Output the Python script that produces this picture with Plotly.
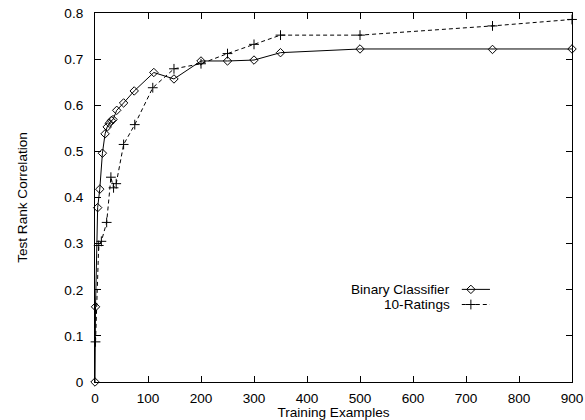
import plotly.graph_objects as go

# Data
binary_x = [0, 1, 5, 9, 14, 19, 23, 27, 31, 34, 41, 54, 74, 111, 149, 200, 250, 300, 350, 500, 750, 900]
binary_y = [0.0, 0.163, 0.378, 0.418, 0.496, 0.538, 0.553, 0.561, 0.567, 0.569, 0.589, 0.605, 0.631,
            0.671, 0.657, 0.696, 0.696, 0.698, 0.714, 0.722, 0.721, 0.722]

ratings_x = [1, 7, 12, 22, 30, 35, 40, 54, 75, 109, 149, 200, 250, 300, 350, 500, 750, 900]
ratings_y = [0.087, 0.296, 0.305, 0.346, 0.444, 0.421, 0.430, 0.515, 0.558, 0.638, 0.679, 0.690,
             0.712, 0.732, 0.752, 0.752, 0.772, 0.786]

x_ticks = [0, 100, 200, 300, 400, 500, 600, 700, 800, 900]
y_ticks = [0, 0.1, 0.2, 0.3, 0.4, 0.5, 0.6, 0.7, 0.8]
y_tick_text = ["0", "0.1", "0.2", "0.3", "0.4", "0.5", "0.6", "0.7", "0.8"]

series_names = ["Binary Classifier", "10-Ratings"]

FONT = "Liberation Sans, Arial, sans-serif"
FS = 13.6

fig = go.Figure()
fig.add_trace(go.Scatter(
    x=binary_x, y=binary_y, mode="lines+markers", name=series_names[0],
    line=dict(color="black", width=1),
    marker=dict(symbol="diamond-open", size=6.5, color="black", line=dict(width=1, color="black")),
    cliponaxis=False, showlegend=False))
fig.add_trace(go.Scatter(
    x=ratings_x, y=ratings_y, mode="lines+markers", name=series_names[1],
    line=dict(color="black", width=1, dash="4px,3px"),
    marker=dict(symbol="cross-thin-open", size=7, color="black", line=dict(width=1, color="black")),
    cliponaxis=False, showlegend=False))

# Legend (text on the left, sample on the right as in the reference) on an overlay axis
leg_y = [0.251, 0.21]
leg_line_x = [0.769, 0.828]
leg_mark_x = [0.788]
fig.add_trace(go.Scatter(x=leg_line_x, y=[leg_y[0]] * 2, mode="lines",
                         line=dict(color="black", width=1), xaxis="x2", yaxis="y2", showlegend=False,
                         hoverinfo="skip"))
fig.add_trace(go.Scatter(x=leg_mark_x, y=[leg_y[0]], mode="markers",
                         marker=dict(symbol="diamond-open", size=6.5, color="black", line=dict(width=1)),
                         xaxis="x2", yaxis="y2", showlegend=False, hoverinfo="skip"))
fig.add_trace(go.Scatter(x=leg_line_x, y=[leg_y[1]] * 2, mode="lines",
                         line=dict(color="black", width=1, dash="4px,3px"), xaxis="x2", yaxis="y2",
                         showlegend=False, hoverinfo="skip"))
fig.add_trace(go.Scatter(x=leg_mark_x, y=[leg_y[1]], mode="markers",
                         marker=dict(symbol="cross-thin-open", size=7, color="black", line=dict(width=1)),
                         xaxis="x2", yaxis="y2", showlegend=False, hoverinfo="skip"))
for name, yy in zip(series_names, leg_y):
    fig.add_annotation(x=0.748, y=yy, xref="x2", yref="y2", text=name, showarrow=False,
                       xanchor="right", yanchor="middle", font=dict(family=FONT, size=FS, color="black"))

axis_common = dict(showline=True, linecolor="black", linewidth=1, mirror="allticks",
                   ticks="inside", ticklen=6, tickcolor="black", tickwidth=1,
                   showgrid=False, zeroline=False, automargin=False,
                   ticklabeloverflow="allow",
                   tickfont=dict(family=FONT, size=FS, color="black"))

fig.update_layout(
    width=585, height=420,
    margin=dict(l=95, r=13, t=13, b=38),
    paper_bgcolor="white", plot_bgcolor="white",
    font=dict(family=FONT, size=FS, color="black"),
    xaxis=dict(range=[0, 900], tickvals=x_ticks, ticktext=[str(v) for v in x_ticks],
               title=dict(text="Training Examples", standoff=0, font=dict(family=FONT, size=FS)),
               ticklabelstandoff=4, **axis_common),
    yaxis=dict(range=[0, 0.8], tickvals=y_ticks, ticktext=y_tick_text,
               title=dict(text="Test Rank Correlation", standoff=33, font=dict(family=FONT, size=FS)),
               ticklabelstandoff=8, **axis_common),
    xaxis2=dict(range=[0, 1], overlaying="x", visible=False, fixedrange=True),
    yaxis2=dict(range=[0, 1], overlaying="y", visible=False, fixedrange=True),
    showlegend=False,
)

fig.write_html("out.html")
